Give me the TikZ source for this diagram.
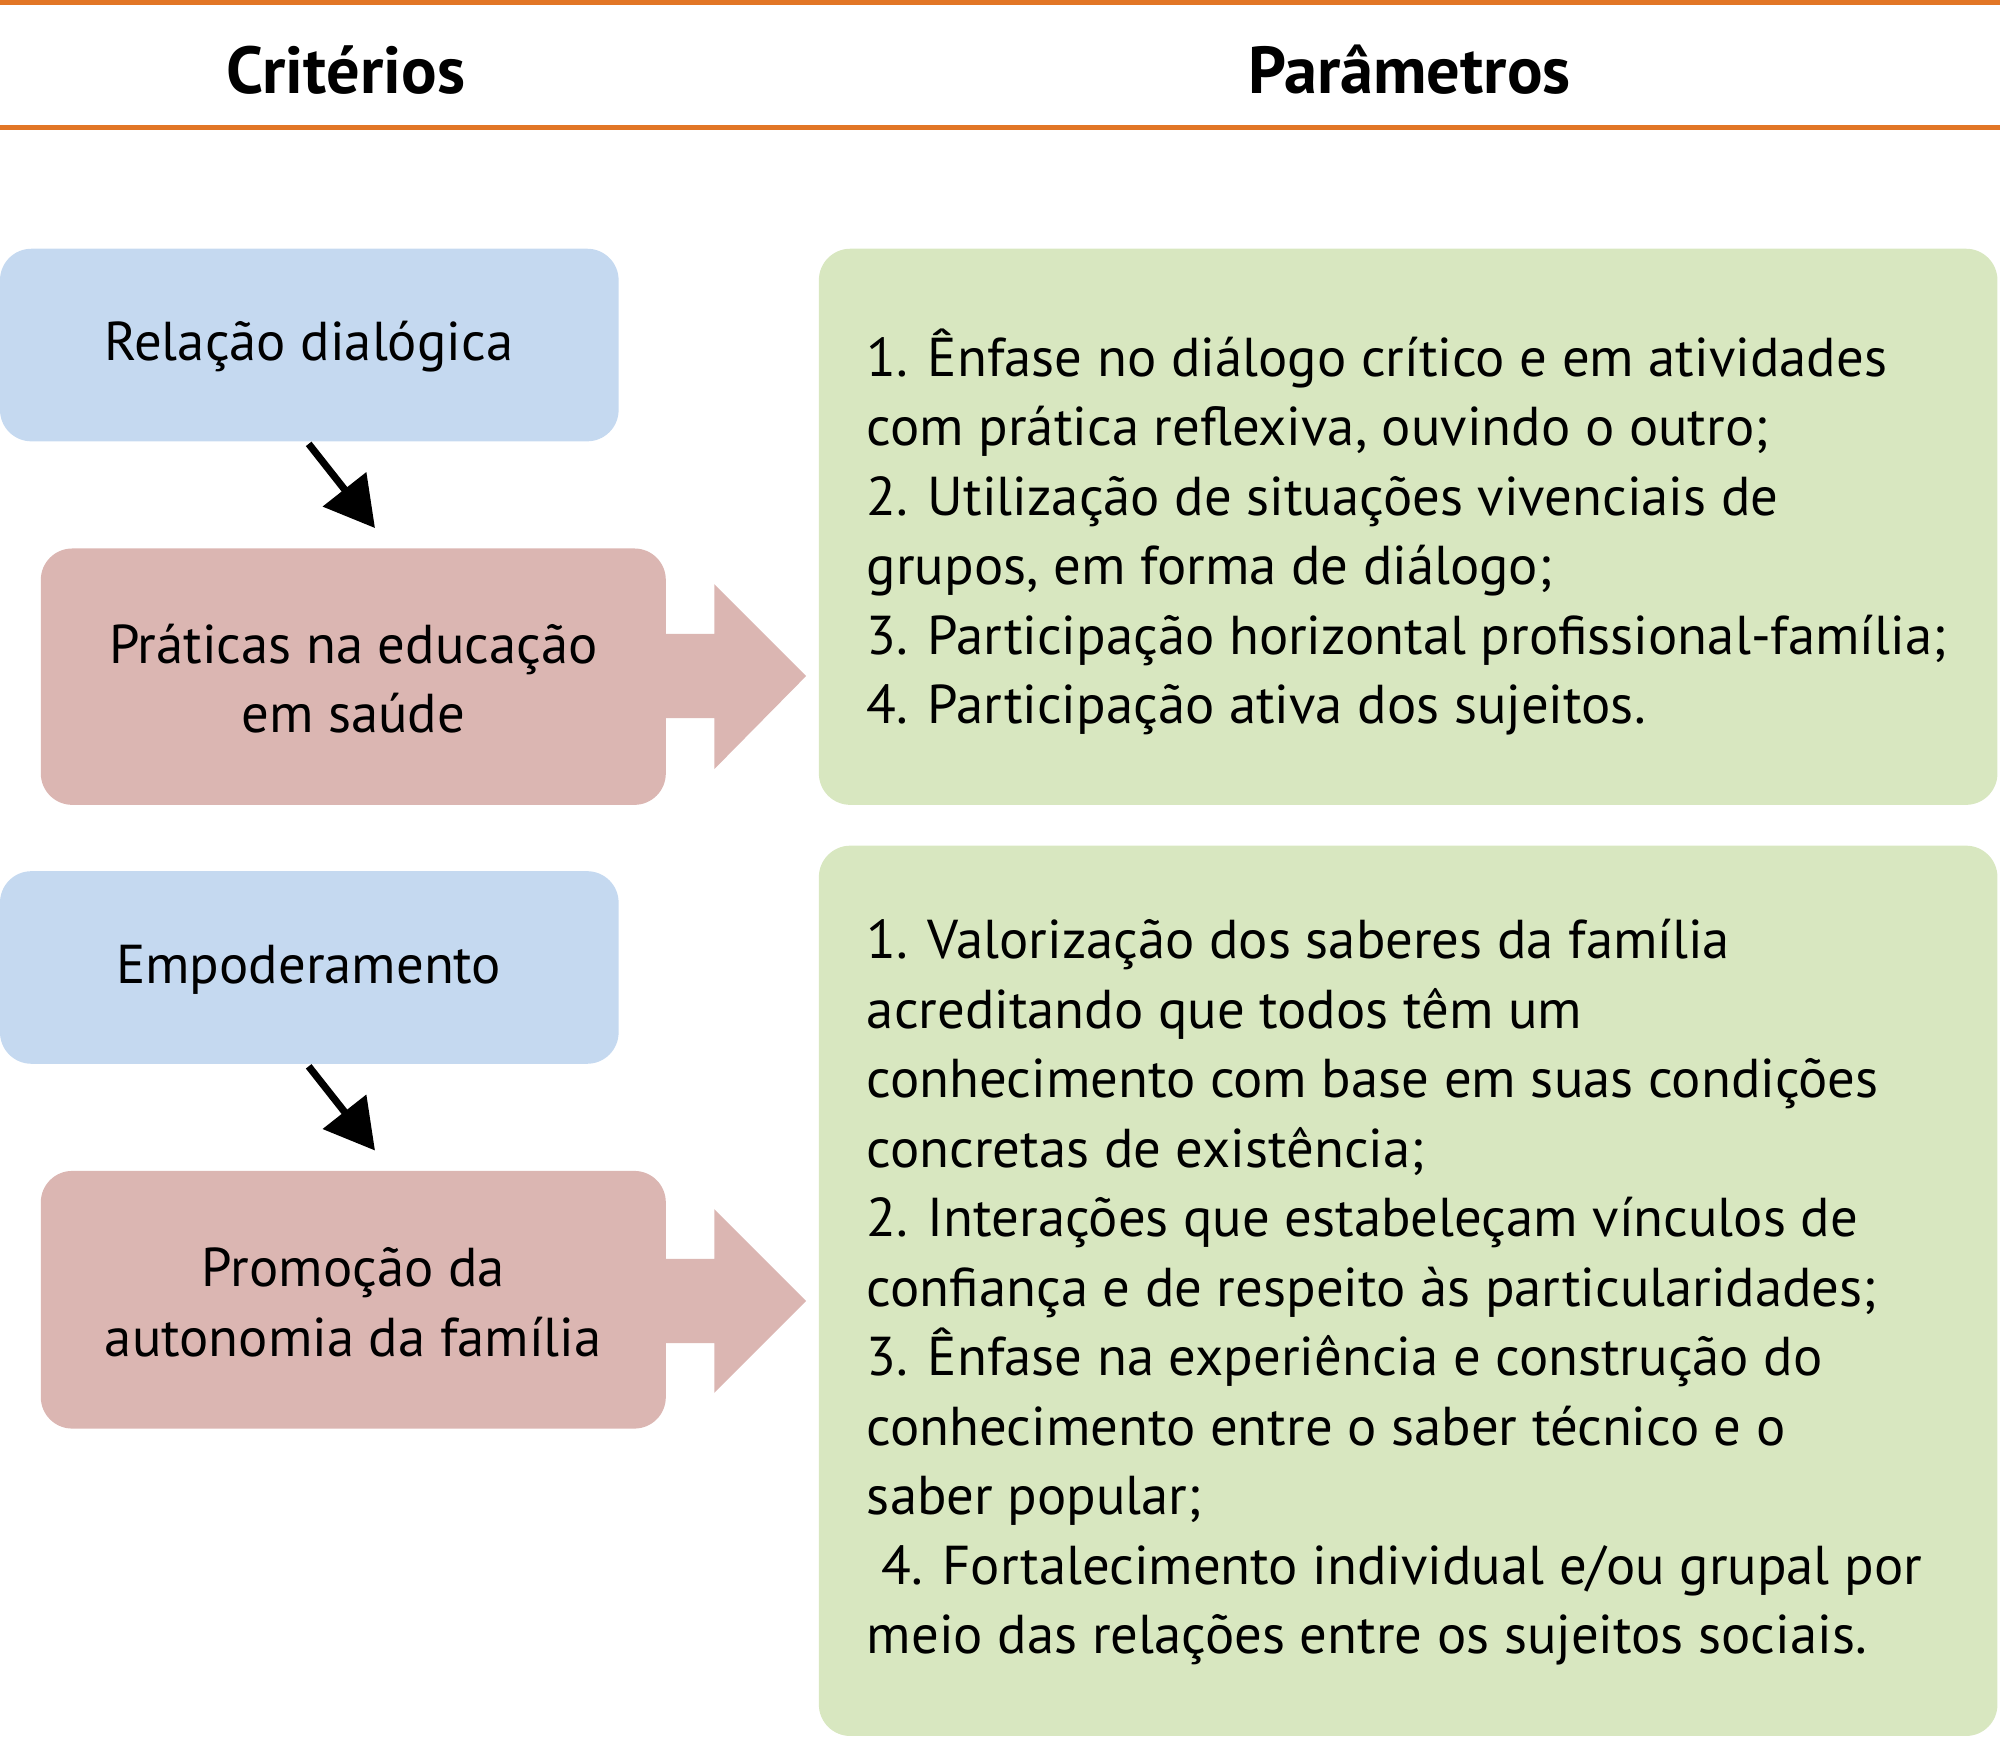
\documentclass[tikz,border=0pt]{standalone}
\usepackage{fontspec}
\setmainfont{PT Sans}
\usetikzlibrary{arrows.meta}
\definecolor{orng}{RGB}{226,118,38}
\definecolor{bluebox}{RGB}{197,217,240}
\definecolor{pinkbox}{RGB}{219,182,178}
\definecolor{greenbox}{RGB}{216,231,192}
\tikzset{
  box/.style={rounded corners=7pt},
  lbl/.style={font=\fontsize{12.2pt}{15.5pt}\selectfont, align=center},
  para/.style={font=\fontsize{12.2pt}{15.5pt}\selectfont, align=left, anchor=north west, inner sep=0pt},
  hdr/.style={font=\fontsize{14.8pt}{17pt}\selectfont\bfseries},
  conn/.style={line width=1.6pt, -{Triangle[length=11pt,width=12pt]}}
}
\begin{document}
\begin{tikzpicture}[x=0.01cm,y=-0.01cm]
\useasboundingbox (0,0) rectangle (1568,1363);
\draw[orng, line width=1.2pt] (0,2) -- (1568,2);
\draw[orng, line width=1.2pt] (0,100) -- (1568,100);
\node[hdr] (h1) at (271,55) {Critérios};
\node[hdr] (h2) at (1105,55) {Parâmetros};
% block arrows
\fill[pinkbox] (500,497) -- (560,497) -- (560,458) -- (632,530) -- (560,603) -- (560,563) -- (500,563) -- cycle;
\fill[pinkbox] (500,987) -- (560,987) -- (560,948) -- (632,1020) -- (560,1092) -- (560,1053) -- (500,1053) -- cycle;
% boxes
\fill[bluebox, box] (0,195) rectangle (485,346);
\node[lbl] (b1) at (242,272) {Relação dialógica};
\fill[pinkbox, box] (32,430) rectangle (522,631);
\node[lbl] (p1) at (277,532) {Práticas na educação\\em saúde};
\fill[bluebox, box] (0,683) rectangle (485,834);
\node[lbl] (b2) at (242,760) {Empoderamento};
\fill[pinkbox, box] (32,918) rectangle (522,1120);
\node[lbl] (p2) at (277,1021) {Promoção da\\autonomia da família};
\fill[greenbox, box] (642,195) rectangle (1566,631);
\fill[greenbox, box] (642,663) rectangle (1566,1361);
\coordinate (a1s) at (242,348); \coordinate (a1e) at (294,414);
\coordinate (a2s) at (242,836); \coordinate (a2e) at (294,902);
\draw[conn] (a1s) -- (a1e);
\draw[conn] (a2s) -- (a2e);
\node[para] (g1) at (679,257) {1. Ênfase no diálogo crítico e em atividades\\com prática reflexiva, ouvindo o outro;\\2. Utilização de situações vivenciais de\\grupos, em forma de diálogo;\\3. Participação horizontal profissional-família;\\4. Participação ativa dos sujeitos.};
\node[para] (g2) at (679,720) {1. Valorização dos saberes da família\\acreditando que todos têm um\\conhecimento com base em suas condições\\concretas de existência;\\2. Interações que estabeleçam vínculos de\\confiança e de respeito às particularidades;\\3. Ênfase na experiência e construção do\\conhecimento entre o saber técnico e o\\saber popular;\\\ 4. Fortalecimento individual e/ou grupal por\\meio das relações entre os sujeitos sociais.};
\end{tikzpicture}
\end{document}
